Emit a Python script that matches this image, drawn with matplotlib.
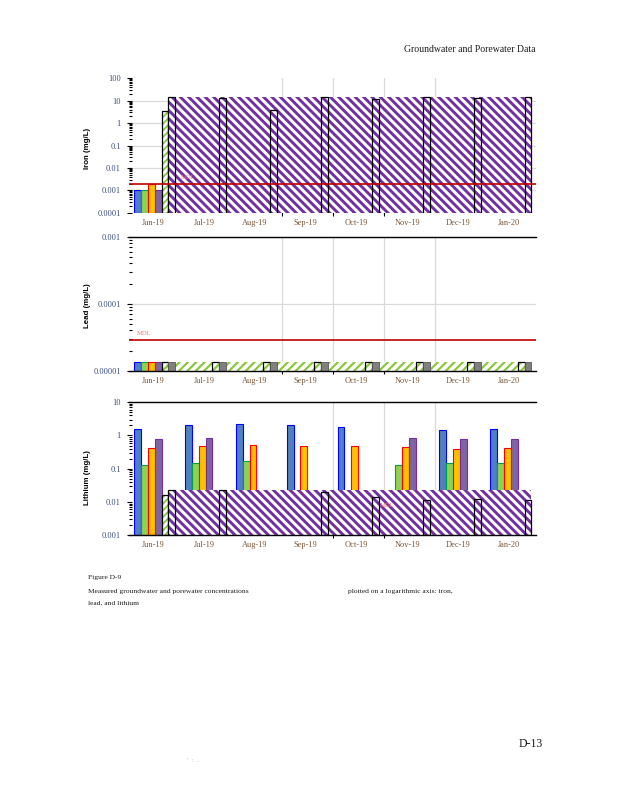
import numpy as np
import matplotlib
matplotlib.use("Agg")
import matplotlib.pyplot as plt
from matplotlib.ticker import FixedLocator, FixedFormatter, NullFormatter, LogLocator

plt.rcParams['font.family'] = ['Liberation Serif', 'DejaVu Serif']

nan = np.nan
months = ['Jun-19', 'Jul-19', 'Aug-19', 'Sep-19', 'Oct-19', 'Nov-19', 'Dec-19', 'Jan-20']

# ---------------- Iron (mg/L) ----------------
iron_blue = [0.001, nan, nan, nan, nan, nan, nan, nan]
iron_green = [0.001, nan, nan, nan, nan, nan, nan, nan]
iron_orange = [0.002, nan, nan, nan, nan, nan, nan, nan]
iron_purple = [0.001, nan, nan, nan, nan, nan, nan, nan]
iron_ghatch = [3.6, nan, nan, nan, nan, nan, nan, nan]
iron_nd = [15, 13, 3.8, 15, 12, 15, 13, 15]
iron_band = [15, 15, 15, 15, 15, 15, 15, 15]
iron_mdl = 0.002
iron_ticks = [1e-4, 1e-3, 1e-2, 1e-1, 1, 10, 100]
iron_ticklabels = ['0.0001', '0.001', '0.01', '0.1', '1', '10', '100']

# ---------------- Lead (mg/L) ----------------
lead_blue = [1.35e-5, nan, nan, nan, nan, nan, nan, nan]
lead_green = [1.35e-5, nan, nan, nan, nan, nan, nan, nan]
lead_orange = [1.35e-5, nan, nan, nan, nan, nan, nan, nan]
lead_purple = [1.35e-5, nan, nan, nan, nan, nan, nan, nan]
lead_ghatch = [1.35e-5, 1.35e-5, 1.35e-5, 1.35e-5, 1.35e-5, 1.35e-5, 1.35e-5, 1.35e-5]
lead_gray = [1.35e-5, 1.35e-5, 1.35e-5, 1.35e-5, 1.35e-5, 1.35e-5, 1.35e-5, 1.35e-5]
lead_mdl = 2.9e-5
lead_ticks = [1e-5, 1e-4, 1e-3]
lead_ticklabels = ['0.00001', '0.0001', '0.001']

# ---------------- Lithium (mg/L) ----------------
li_blue = [1.58, 2.04, 2.19, 2.04, 1.82, nan, 1.45, 1.58]
li_green = [0.126, 0.148, 0.174, nan, nan, 0.132, 0.148, 0.148]
li_orange = [0.417, 0.479, 0.513, 0.479, 0.479, 0.447, 0.398, 0.417]
li_purple = [0.794, 0.851, nan, nan, nan, 0.851, 0.794, 0.794]
li_ghatch = [0.0166, nan, nan, nan, nan, nan, nan, nan]
li_nd = [0.0234, 0.0234, nan, 0.020, 0.0145, 0.0115, 0.0123, 0.0115]
li_band = [0.0234, 0.0234, 0.0234, 0.0234, 0.0234, 0.0234, 0.0234, 0.0234]
li_mdl_label_y = 0.0081
li_ticks = [1e-3, 1e-2, 1e-1, 1, 10]
li_ticklabels = ['0.001', '0.01', '0.1', '1', '10']

# ---------------- styling ----------------
C_BLUE, E_BLUE = '#4f81bd', '#0000ff'
C_GREEN, E_GREEN = '#92d050', '#00a040'
C_ORANGE, E_ORANGE = '#ffc000', '#ff0000'
C_PURPLE, E_PURPLE = '#8064a2', '#7030a0'
C_GRAY = '#808080'
H_PURPLE = '#7030a0'
H_GREEN = '#8cc63f'
GRID = '#d9d9d9'
MDL_LINE = '#c00000'
MDL_TXT = '#f07878'
YT_COL = '#3b4f7a'
XT_COL = '#7a5636'

W = 0.135
OFF = -0.41
x = np.arange(len(months))


def slot(k):
    return x + OFF + k * W


def hbars(ax, left, vals, widths, bottom, color, hatch, hlw, z):
    bars = ax.bar(left, np.array(vals) - bottom, width=widths, bottom=bottom, align='edge',
                  facecolor='white', edgecolor=color, linewidth=0, hatch=hatch, zorder=z)
    for b in bars:
        if hasattr(b, 'set_hatch_linewidth'):
            b.set_hatch_linewidth(hlw)
    return bars


def panel(ax, ylo, yhi, ticks, labels, solids, top_spine, bottom_spine, xmajor, vgrid, hgrid):
    ax.set_yscale('log')
    ax.set_ylim(ylo, yhi)
    ax.set_xlim(-0.5, 7.5)
    for k, (vals, fc, ec) in enumerate(solids):
        v = np.array(vals, dtype=float)
        ax.bar(slot(k), v - ylo, width=W, bottom=ylo, align='edge', facecolor=fc,
               edgecolor=ec, linewidth=0.8, zorder=2)
    for g in vgrid:
        ax.axvline(g, color=GRID, lw=0.9, zorder=0.5)
    for g in hgrid:
        ax.axhline(g, color=GRID, lw=0.9, zorder=0.5)
    ax.yaxis.set_major_locator(FixedLocator(ticks))
    ax.yaxis.set_major_formatter(FixedFormatter(labels))
    ax.yaxis.set_minor_locator(LogLocator(base=10, subs=np.arange(2, 10), numticks=20))
    ax.yaxis.set_minor_formatter(NullFormatter())
    ax.tick_params(axis='y', which='major', direction='inout', length=3.6, width=0.8,
                   labelsize=6, labelcolor=YT_COL, pad=4.3)
    ax.tick_params(axis='y', which='minor', direction='in', length=1.8, width=0.8)
    ax.xaxis.set_major_locator(FixedLocator(xmajor))
    ax.xaxis.set_major_formatter(NullFormatter())
    ax.xaxis.set_minor_locator(FixedLocator(x - 0.035))
    ax.xaxis.set_minor_formatter(FixedFormatter(months))
    ax.tick_params(axis='x', which='major', direction='inout', length=3.6, width=0.8)
    ax.tick_params(axis='x', which='minor', length=0, labelsize=6, labelcolor=XT_COL, pad=4.2)
    ax.spines['left'].set_visible(False)
    ax.spines['right'].set_visible(False)
    ax.spines['top'].set_visible(top_spine)
    ax.spines['bottom'].set_visible(bottom_spine)
    for s in ('top', 'bottom'):
        ax.spines[s].set_color('black')
        ax.spines[s].set_linewidth(1.0)
        ax.spines[s].set_zorder(6)
    ax.patch.set_alpha(0)


fig = plt.figure(figsize=(6.18, 8.0), dpi=100)
fig.patch.set_facecolor('white')

band_w = np.r_[np.ones(7), W]

# Iron
ax1 = fig.add_axes([0.2095, 0.7341, 0.6586, 0.1680])
panel(ax1, 1e-4, 100, iron_ticks, iron_ticklabels,
      [(iron_blue, C_BLUE, E_BLUE), (iron_green, C_GREEN, E_GREEN),
       (iron_orange, C_ORANGE, E_ORANGE), (iron_purple, C_PURPLE, E_PURPLE)],
      False, False, [2.5, 3.5, 4.5], [2.5, 3.5, 4.5, 5.5], [1e-3, 1e-2, 1e-1, 1, 10])
hbars(ax1, slot(4), iron_ghatch, W, 1e-4, H_GREEN, '/////', 1.3, 2.5)
ax1.bar(slot(4), np.array(iron_ghatch) - 1e-4, width=W, bottom=1e-4, align='edge',
        fill=False, edgecolor='black', linewidth=0.9, zorder=2.6)
hbars(ax1, slot(5), iron_band, band_w, 1e-4, H_PURPLE, '\\\\\\\\', 2.1, 3)
ax1.bar(slot(5), np.array(iron_nd) - 1e-4, width=W, bottom=1e-4, align='edge',
        fill=False, edgecolor='black', linewidth=0.9, zorder=4)
ax1.axhline(iron_mdl, color=MDL_LINE, lw=1.2, zorder=5)
ax1.annotate('MDL', xy=(0.51, iron_mdl), xytext=(0, 2.5), textcoords='offset points',
             ha='left', va='bottom', fontsize=4.8, color=MDL_TXT, zorder=7)

# Lead
ax2 = fig.add_axes([0.2095, 0.5366, 0.6586, 0.1675])
panel(ax2, 1e-5, 1e-3, lead_ticks, lead_ticklabels,
      [(lead_blue, C_BLUE, E_BLUE), (lead_green, C_GREEN, E_GREEN),
       (lead_orange, C_ORANGE, E_ORANGE), (lead_purple, C_PURPLE, E_PURPLE)],
      True, True, [2.5, 3.5, 4.5], [2.5, 3.5, 4.5, 5.5], [1e-4])
hbars(ax2, slot(4), lead_ghatch, band_w, 1e-5, H_GREEN, '////', 1.6, 3)
ax2.bar(slot(4), np.array(lead_ghatch) - 1e-5, width=W, bottom=1e-5, align='edge',
        fill=False, edgecolor='black', linewidth=0.9, zorder=3.5)
ax2.bar(slot(5), np.array(lead_gray) - 1e-5, width=W, bottom=1e-5, align='edge',
        facecolor=C_GRAY, edgecolor='#595959', linewidth=0.6, zorder=4)
ax2.axhline(lead_mdl, color=MDL_LINE, lw=1.2, zorder=5)
ax2.annotate('MDL', xy=(-0.347, lead_mdl), xytext=(0, 2.5), textcoords='offset points',
             ha='left', va='bottom', fontsize=4.8, color=MDL_TXT, zorder=7)

# Lithium
ax3 = fig.add_axes([0.2095, 0.3309, 0.6586, 0.1663])
panel(ax3, 1e-3, 10, li_ticks, li_ticklabels,
      [(li_blue, C_BLUE, E_BLUE), (li_green, C_GREEN, E_GREEN),
       (li_orange, C_ORANGE, E_ORANGE), (li_purple, C_PURPLE, E_PURPLE)],
      True, True, [3.5, 4.5], [3.5, 4.5, 5.5], [])
hbars(ax3, slot(4), li_ghatch, W, 1e-3, H_GREEN, '/////', 1.3, 2.5)
ax3.bar(slot(4), np.array(li_ghatch) - 1e-3, width=W, bottom=1e-3, align='edge',
        fill=False, edgecolor='black', linewidth=0.9, zorder=2.6)
hbars(ax3, slot(5), li_band, band_w, 1e-3, H_PURPLE, '\\\\\\\\', 2.1, 3)
ax3.bar(slot(5), np.array(li_nd) - 1e-3, width=W, bottom=1e-3, align='edge',
        fill=False, edgecolor='black', linewidth=0.9, zorder=4)
ax3.text(4.42, li_mdl_label_y, 'MDL', ha='left', va='center', fontsize=4.8,
         color=MDL_TXT, zorder=7)

# y labels
lab_kw = dict(rotation=90, ha='center', va='center', fontsize=5.7, fontweight='bold',
              family=['Liberation Sans', 'DejaVu Sans'], color='black')
fig.text(0.1413, 0.8146, 'Iron (mg/L)', **lab_kw)
fig.text(0.1413, 0.6178, 'Lead (mg/L)', **lab_kw)
fig.text(0.1413, 0.4031, 'Lithium (mg/L)', **lab_kw)

# page text
fig.text(0.867, 0.9375, 'Groundwater and Porewater Data', ha='right', va='center',
         fontsize=7, color='#1a1a1a')
cap_kw = dict(ha='left', va='center', fontsize=5.4, color='#1a1a1a')
fig.text(0.1424, 0.2775, 'Figure D-9', **cap_kw)
fig.text(0.1424, 0.26125, 'Measured groundwater and porewater concentrations', **cap_kw)
fig.text(0.5631, 0.26125, 'plotted on a logarithmic axis: iron,', **cap_kw)
fig.text(0.1424, 0.24625, 'lead, and lithium', **cap_kw)
fig.text(0.8398, 0.07, 'D-13', ha='left', va='center', fontsize=8.5, color='#1a1a1a')
fig.text(0.3026, 0.05, "'   :   .", ha='left', va='center', fontsize=4, color='#999999')

fig.savefig('out.png', dpi=100, facecolor='white')
